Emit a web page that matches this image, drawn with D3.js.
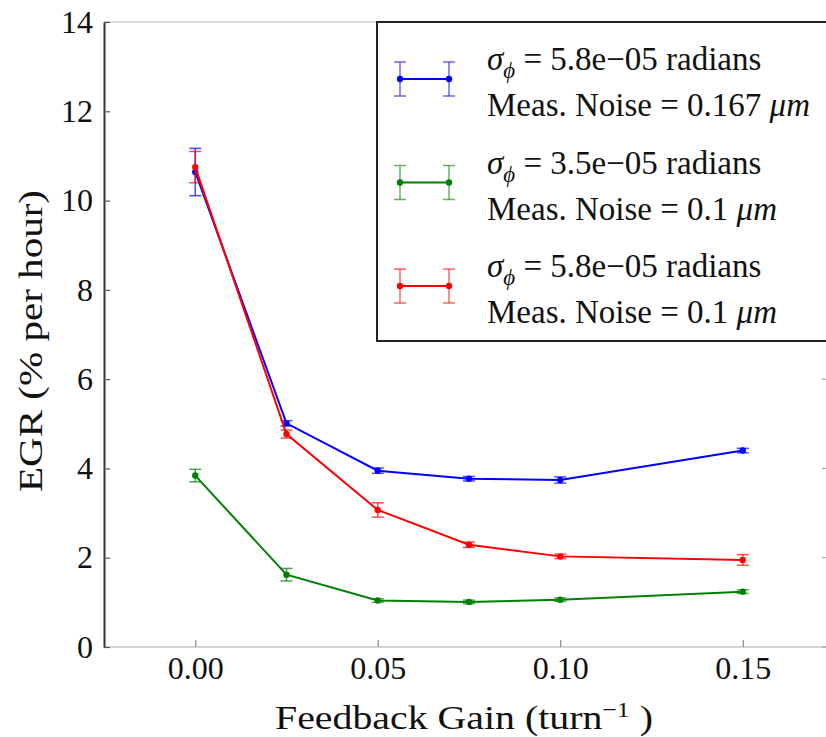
<!DOCTYPE html>
<html>
<head>
<meta charset="utf-8">
<script src="https://cdn.jsdelivr.net/npm/d3@7"></script>
<style>
  body { margin: 0; background: #fff; }
</style>
</head>
<body>
<svg width="826" height="737"></svg>
<script>
// feedback gain values (turn^-1)
const gains = [0, 0.025, 0.05, 0.075, 0.10, 0.15];

// EGR in % per hour
const egrBlue  = [10.64, 5.01, 3.95, 3.77, 3.74, 4.40];
const errBlue  = [0.53, 0.06, 0.06, 0.05, 0.07, 0.05];
const egrGreen = [3.84, 1.62, 1.04, 1.01, 1.06, 1.24];
const errGreen = [0.14, 0.14, 0.04, 0.04, 0.04, 0.04];
const egrRed   = [10.75, 4.77, 3.07, 2.29, 2.03, 1.95];
const errRed   = [0.35, 0.09, 0.16, 0.06, 0.05, 0.12];

const sigmaLabels = ['5.8e\u221205', '3.5e\u221205', '5.8e\u221205'];
const noiseLabels = ['0.167', '0.1', '0.1'];
const colors = ['#0000ff', '#008000', '#ff0000'];

const yTicks = [0, 2, 4, 6, 8, 10, 12, 14];
const xTicks = [0, 0.05, 0.10, 0.15];

const serif = '"Liberation Serif", "Times New Roman", Times, "DejaVu Serif", serif';

let svg = d3.select('svg');

let x = d3.scaleLinear().domain([-0.025, 0.175]).range([104, 834]);
let y = d3.scaleLinear().domain([0, 14]).range([647, 22]);

let series = [
  { color: colors[0], vals: egrBlue,  errs: errBlue },
  { color: colors[1], vals: egrGreen, errs: errGreen },
  { color: colors[2], vals: egrRed,   errs: errRed }
];

// spines (top / bottom came out faint in the original)
svg.append('line').attr('x1', 104).attr('x2', 834).attr('y1', y(14)).attr('y2', y(14))
  .attr('stroke', '#ccc').attr('stroke-width', 1.5);
svg.append('line').attr('x1', 104).attr('x2', 834).attr('y1', y(0)).attr('y2', y(0))
  .attr('stroke', '#d4d4d4').attr('stroke-width', 2);

// y axis, ticks pointing in
let yAxis = svg.append('g')
  .attr('transform', 'translate(104,0)')
  .call(d3.axisLeft(y).tickValues(yTicks).tickSize(-6).tickSizeOuter(0).tickPadding(11));
yAxis.attr('font-family', null).attr('font-size', null);
yAxis.select('.domain').attr('stroke', '#333').attr('stroke-width', 2);
yAxis.selectAll('.tick line').attr('stroke', '#555').attr('stroke-width', 1.2);
yAxis.selectAll('.tick text')
  .style('font-family', serif).style('font-size', '32px').attr('fill', '#111');

// right side ticks (spine itself is just off the picture)
svg.append('g').selectAll('line')
  .data(yTicks)
  .enter().append('line')
    .attr('x1', 822).attr('x2', 834)
    .attr('y1', d => y(d)).attr('y2', d => y(d))
    .attr('stroke', '#999').attr('stroke-width', 1);

// x axis, ticks pointing up
let xAxis = svg.append('g')
  .attr('transform', 'translate(0,' + y(0) + ')')
  .call(d3.axisBottom(x).tickValues(xTicks).tickFormat(d3.format('.2f'))
    .tickSize(-7).tickSizeOuter(0).tickPadding(9));
xAxis.attr('font-family', null).attr('font-size', null);
xAxis.select('.domain').remove();
xAxis.selectAll('.tick line').attr('stroke', '#888').attr('stroke-width', 1.2);
xAxis.selectAll('.tick text')
  .style('font-family', serif).style('font-size', '32px').attr('fill', '#111');

// axis titles
let xTitle = svg.append('text')
  .attr('x', 464).attr('y', 729)
  .attr('text-anchor', 'middle')
  .style('font-family', serif)
  .style('font-size', '34px')
  .attr('fill', '#111')
  .attr('textLength', 378).attr('lengthAdjust', 'spacingAndGlyphs');
xTitle.append('tspan').text('Feedback Gain (turn');
xTitle.append('tspan').attr('dy', -12).style('font-size', '22px').text('\u22121');
xTitle.append('tspan').attr('dy', 12).text(' )');

svg.append('text')
  .attr('transform', 'translate(42,341) rotate(-90)')
  .attr('text-anchor', 'middle')
  .style('font-family', serif)
  .style('font-size', '34px')
  .attr('fill', '#111')
  .attr('textLength', 302).attr('lengthAdjust', 'spacingAndGlyphs')
  .text('EGR (% per hour)');

let line = d3.line()
  .x(d => x(d.g))
  .y(d => y(d.v));

series.forEach(function(s) {
  let pts = gains.map((g, i) => ({ g: g, v: s.vals[i], e: s.errs[i] }));
  let grp = svg.append('g');

  grp.append('path')
    .datum(pts)
    .attr('d', line)
    .attr('fill', 'none')
    .attr('stroke', s.color)
    .attr('stroke-width', 2);

  let eb = grp.selectAll('.eb').data(pts).enter().append('g')
    .attr('stroke', s.color).attr('stroke-opacity', 0.7).attr('stroke-width', 1.5);
  eb.append('line')
    .attr('x1', d => x(d.g)).attr('x2', d => x(d.g))
    .attr('y1', d => y(d.v + d.e)).attr('y2', d => y(d.v - d.e));
  eb.append('line')
    .attr('x1', d => x(d.g) - 6).attr('x2', d => x(d.g) + 6)
    .attr('y1', d => y(d.v + d.e)).attr('y2', d => y(d.v + d.e));
  eb.append('line')
    .attr('x1', d => x(d.g) - 6).attr('x2', d => x(d.g) + 6)
    .attr('y1', d => y(d.v - d.e)).attr('y2', d => y(d.v - d.e));

  grp.selectAll('circle').data(pts).enter().append('circle')
    .attr('cx', d => x(d.g)).attr('cy', d => y(d.v))
    .attr('r', 3.2)
    .attr('fill', s.color);
});

// legend
let legend = svg.append('g');
legend.append('rect')
  .attr('x', 377).attr('y', 22).attr('width', 470).attr('height', 319)
  .attr('fill', '#fff').attr('stroke', '#222').attr('stroke-width', 2);

series.forEach(function(s, i) {
  let top = 22 + i * 103.5;
  let hy = top + 57;
  let lg = legend.append('g');

  lg.append('line').attr('x1', 400).attr('x2', 449).attr('y1', hy).attr('y2', hy)
    .attr('stroke', s.color).attr('stroke-width', 2);
  [400, 449].forEach(function(cx) {
    let eg = lg.append('g').attr('stroke', s.color).attr('stroke-opacity', 0.6).attr('stroke-width', 1.5);
    eg.append('line').attr('x1', cx).attr('x2', cx).attr('y1', hy - 17).attr('y2', hy + 17);
    eg.append('line').attr('x1', cx - 6).attr('x2', cx + 6).attr('y1', hy - 17).attr('y2', hy - 17);
    eg.append('line').attr('x1', cx - 6).attr('x2', cx + 6).attr('y1', hy + 17).attr('y2', hy + 17);
    lg.append('circle').attr('cx', cx).attr('cy', hy).attr('r', 3.2).attr('fill', s.color);
  });

  let t1 = lg.append('text').attr('x', 487).attr('y', top + 48)
    .style('font-family', serif).style('font-size', '33px').attr('fill', '#111');
  t1.append('tspan').style('font-style', 'italic').text('\u03c3');
  t1.append('tspan').attr('dy', 8).style('font-style', 'italic').style('font-size', '23px').text('\u03d5');
  t1.append('tspan').attr('dy', -8).text('  = ' + sigmaLabels[i] + ' radians');

  let t2 = lg.append('text').attr('x', 487).attr('y', top + 94)
    .style('font-family', serif).style('font-size', '33px').attr('fill', '#111');
  t2.append('tspan').text('Meas. Noise = ' + noiseLabels[i] + ' ');
  t2.append('tspan').style('font-style', 'italic').text('\u03bcm');
});
</script>
</body>
</html>
